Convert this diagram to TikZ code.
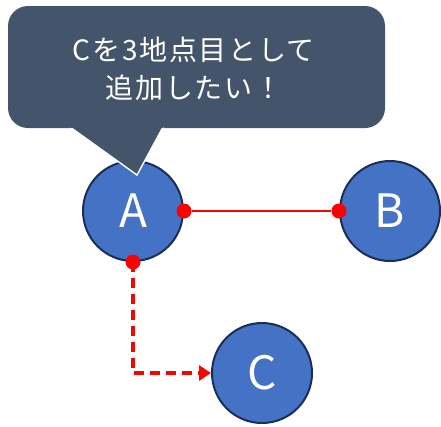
\documentclass[tikz,border=0pt]{standalone}
\usepackage{fontspec}
\setmainfont{Noto Sans CJK JP}
\usetikzlibrary{arrows.meta}
\definecolor{calloutc}{HTML}{44546A}
\definecolor{nodefill}{HTML}{4472C4}
\definecolor{nodeedge}{HTML}{1B2F55}
\definecolor{redc}{HTML}{FF0000}
\tikzset{
  place/.style={circle, fill=nodefill, draw=nodeedge, line width=2pt, minimum size=100pt, inner sep=0pt, text=white, font=\fontsize{46}{46}\selectfont},
  dotmark/.style={circle, fill=redc, inner sep=0pt, minimum size=15pt},
  link/.style={draw=redc, line width=2.6pt},
  dlink/.style={draw=redc, line width=3.2pt, dash pattern=on 10pt off 6pt, -{Triangle[length=12pt,width=15pt]}},
}
\begin{document}
\begin{tikzpicture}[x=1pt,y=-1pt]
\useasboundingbox (0,0) rectangle (441,426);
% nodes
\node[place] (A) at (133,211) {A};
\node[place] (B) at (390,211) {B};
\node[place] (C) at (262,373) {C};
% callout
\fill[calloutc, rounded corners=20pt] (8,6) rectangle (385,128);
\coordinate (pl) at (70,127);
\coordinate (pr) at (163,127);
\coordinate (tip) at (137,175);
\fill[calloutc] (pl) -- (tip) -- (pr) -- cycle;
\draw[white, line width=1.4pt, line join=miter] (pl) -- (tip) -- (pr);
\fill[calloutc] (70,118) rectangle (163,127.5);
\node[text=white, align=center, font=\fontsize{28}{38}\selectfont\addfontfeatures{LetterSpace=6}] (msg) at (194,69) {Cを3地点目として\\追加したい！};
% connectors
\node[dotmark] (ae) at (A.east) {};
\node[dotmark] (bw) at (B.west) {};
\node[dotmark] (as) at (A.south) {};
\draw[link] (ae) -- (bw);
\coordinate (bend) at (A.south |- C.west);
\draw[dlink] (as.center) -- (bend) -- (C.west);
\end{tikzpicture}
\end{document}
